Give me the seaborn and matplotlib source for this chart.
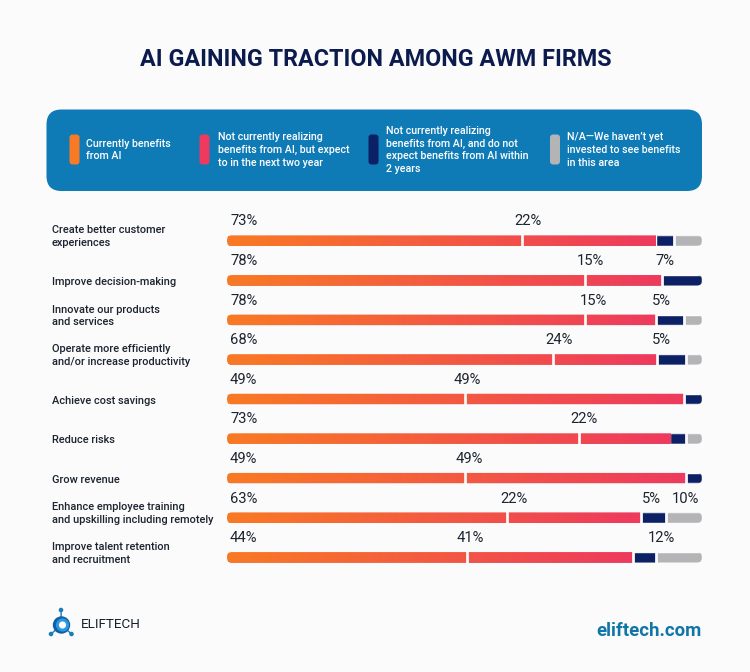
import numpy as np
import pandas as pd
import matplotlib
matplotlib.use('Agg')
import matplotlib.pyplot as plt
import seaborn as sns
from matplotlib.colors import LinearSegmentedColormap
from matplotlib.patches import FancyBboxPatch, Circle
from matplotlib.transforms import IdentityTransform, Affine2D

W, H = 750, 672
BG = '#FBFBFB'

tasks = ['Create better customer\nexperiences', 'Improve decision-making',
         'Innovate our products\nand services',
         'Operate more efficiently\nand/or increase productivity',
         'Achieve cost savings', 'Reduce risks', 'Grow revenue',
         'Enhance employee training\nand upskilling including remotely',
         'Improve talent retention\nand recruitment']

# segment lengths as drawn (share of the bar), they differ from the printed labels
orange_bar = [62.1, 75.4, 75.4, 68.7, 50.0, 74.1, 50.0, 58.9, 50.6]
red_bar = [28.2, 16.1, 15.0, 21.9, 46.2, 19.2, 46.7, 28.2, 34.8]
navy_bar = [3.7, 8.5, 5.8, 6.0, 3.8, 3.4, 3.3, 5.3, 5.0]
gray_bar = [6.0, 0.0, 3.8, 3.4, 0.0, 3.3, 0.0, 7.6, 9.6]

# printed labels
orange_pct = ['73%', '78%', '78%', '68%', '49%', '73%', '49%', '63%', '44%']
red_pct = ['22%', '15%', '15%', '24%', '49%', '22%', '49%', '22%', '41%']
navy_pct = [None, '7%', '5%', '5%', None, None, None, '5%', None]
gray_pct = [None, None, None, None, None, None, None, '10%', '12%']

legend_labels = ['Currently benefits\nfrom AI',
                 'Not currently realizing\nbenefits from AI, but expect\nto in the next two year',
                 'Not currently realizing\nbenefits from AI, and do not\nexpect benefits from AI within\n2 years',
                 "N/A\u2014We haven\u2019t yet\ninvested to see benefits\nin this area"]

ORANGE, RED, NAVY, GRAY = '#F97A24', '#EE3A5E', '#0C2066', '#B4B4B6'
PANEL = '#0E7BB7'
DARK = '#1C2430'

sns.set_theme(style='white')
plt.rcParams['font.family'] = ['Roboto', 'DejaVu Sans']

fig = plt.figure(figsize=(W / 100, H / 100), dpi=100, facecolor=BG)

# bars axes, pixel box 227..702 / 221..577
ax = fig.add_axes([227 / W, 1 - 577.1 / H, 475 / W, 356.2 / H])
ax.patch.set_visible(False)

df = pd.DataFrame({'task': tasks, 'orange': orange_bar, 'red': red_bar,
                   'navy': navy_bar, 'gray': gray_bar})
df['orange_end'] = df['orange']
df['red_end'] = df['orange_end'] + df['red']
df['navy_end'] = df['red_end'] + df['navy']
df['total'] = df['navy_end'] + df['gray']

bar_h = 0.265
# stacked by overdrawing, longest first
for col, c in [('total', GRAY), ('navy_end', NAVY), ('red_end', RED), ('orange_end', ORANGE)]:
    sns.barplot(data=df, x=col, y='task', order=tasks, color=c, saturation=1,
                width=bar_h, errorbar=None, ax=ax)
ax.set_xlim(0, df['total'].max())
ax.set_ylim(8.5, -0.5)
ax.set_xlabel('')
ax.set_ylabel('')
ax.set_xticks([])
sns.despine(ax=ax, left=True, bottom=True)


def px_box(x0, y0, x1, y1, r, color=None):
    # box given in image pixels, y down
    return FancyBboxPatch((x0, H - y1), x1 - x0, y1 - y0,
                          boxstyle=f'round,pad=0,rounding_size={r}',
                          transform=IdentityTransform(), fc=color, ec='none')


def to_px(x, y):
    a, b = ax.transData.transform((x, y))
    return a, H - b


# rounded ends, one clip per row
clips = []
for i, row in df.iterrows():
    x0, y0 = to_px(0, i - bar_h / 2)
    x1, y1 = to_px(row['total'], i + bar_h / 2)
    clips.append(px_box(x0, y0, x1, y1, 5))
for p in ax.patches:
    p.set_clip_path(clips[int(round(p.get_y() + p.get_height() / 2))])

# orange to red fade along each bar
fade = LinearSegmentedColormap.from_list('fade', [ORANGE, RED])
ramp = np.linspace(0, 1, 256).reshape(1, -1)
for i, row in df.iterrows():
    im = ax.imshow(ramp, cmap=fade, aspect='auto', zorder=3,
                   extent=(0, row['red_end'], i + bar_h / 2, i - bar_h / 2))
    im.set_clip_path(clips[i])
ax.set_xlim(0, df['total'].max())
ax.set_ylim(8.5, -0.5)

# gaps between segments (rows 0 and 5 have none between red and navy)
for i, row in df.iterrows():
    cuts = [row['orange_end']]
    if i not in (0, 5):
        cuts.append(row['red_end'])
    if row['gray'] > 0:
        cuts.append(row['navy_end'])
    ax.vlines(cuts, i - 0.2, i + 0.2, color=BG, lw=1.95, zorder=4)

# percent labels, pixel nudges from each segment start
red_nudge = [5.7, 5, 8, 6, 3, 4.6, 4.4, 7.3, 3]
navy_nudge = [0, 3, 5, 4, 0, 0, 0, 11, 0]
gray_nudge = [0, 0, 0, 0, 0, 0, 0, 20, 5]
orange_nudge = [17, 17, 17, 17, 16, 17, 16, 17, 16]
for i, row in df.iterrows():
    for txt, start, nudge in [(orange_pct[i], 0, orange_nudge[i]),
                              (red_pct[i], row['orange_end'], red_nudge[i]),
                              (navy_pct[i], row['red_end'], navy_nudge[i]),
                              (gray_pct[i], row['navy_end'], gray_nudge[i])]:
        if txt is None:
            continue
        ax.annotate(txt, xy=(start, i), xytext=(nudge * 0.72, 19.2 * 0.72),
                    textcoords='offset points', ha='center', va='center',
                    fontsize=10.6, color=DARK, annotation_clip=False)

# row names on the y axis, flush left at x=52
ax.tick_params(axis='y', length=0, pad=175 * 0.72)
ax.set_yticks(range(len(tasks)))
ax.set_yticklabels(tasks, ha='left', fontsize=7.95, fontweight='medium',
                   color=DARK, linespacing=1.33)
for lab in ax.get_yticklabels():
    shift = 6.3 if '\n' in lab.get_text() else -0.8
    lab.set_transform(lab.get_transform() + Affine2D().translate(0, shift))

# title
fig.text(376 / W, 1 - 59 / H, 'AI GAINING TRACTION AMONG AWM FIRMS', ha='center',
         va='center', fontsize=16.8, fontweight='bold', color='#0C1B4D')

# legend panel
fig.add_artist(px_box(46.5, 109.5, 702, 191, 15, PANEL))
swatch_x = [69.5, 199.5, 368.5, 550]
text_x = [85.6, 217.7, 386, 567]
for sx, tx, c, lab in zip(swatch_x, text_x, [ORANGE, RED, NAVY, GRAY], legend_labels):
    fig.add_artist(px_box(sx, 134.5, sx + 10, 164.5, 3, c))
    fig.text(tx / W, 1 - 150 / H, lab, ha='left', va='center', color='white',
             fontsize=7.7, fontweight='medium', linespacing=1.33)

# footer
fig.text(702 / W, 1 - 631 / H, 'eliftech.com', ha='right', va='center', fontsize=13.4,
         fontweight='bold', color='#1076A8')
fig.text(81 / W, 1 - 625 / H, 'ELIFTECH', ha='left', va='center', fontsize=9.7,
         color='#15202B')

# logo: ring with three nodes
for nx, ny in [(61, 610), (51, 634), (71.5, 634)]:
    fig.add_artist(plt.Line2D([61.5, nx], [H - 625, H - ny], color='#1A7DB8', lw=1,
                              zorder=0.5, transform=IdentityTransform()))
    fig.add_artist(Circle((nx, H - ny), 2.3, fc='#1A7DB8', ec='none',
                          transform=IdentityTransform()))
fig.add_artist(Circle((61.5, H - 625), 8.7, fc='#0F5FA6', ec='none',
                      transform=IdentityTransform()))
fig.add_artist(Circle((62.5, H - 625), 6.6, fc='#2A97E0', ec='none',
                      transform=IdentityTransform()))
fig.add_artist(Circle((62.5, H - 625), 3.6, fc=BG, ec='none',
                      transform=IdentityTransform()))

fig.savefig('out.png', dpi=100, facecolor=BG)
